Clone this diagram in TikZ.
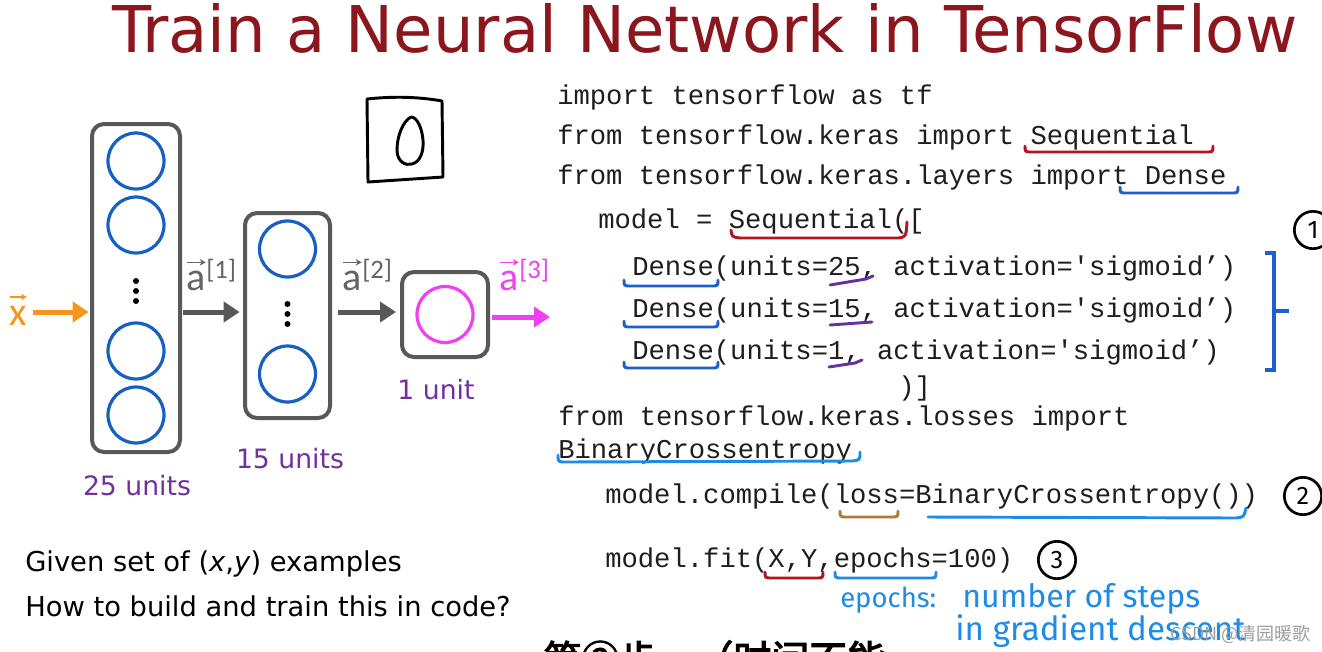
\documentclass[tikz,border=0pt]{standalone}
\usepackage{fontspec}
\setmainfont{DejaVu Sans}
\newfontfamily\codefont{Liberation Mono}
\newfontfamily\calfont{Carlito}
\newfontfamily\cjkfont{Noto Sans CJK SC}
\newfontfamily\cjkheavy[FakeBold=3]{Noto Sans CJK SC}
\newfontfamily\handfont{Fira Sans}
\usetikzlibrary{arrows.meta,calc}

\definecolor{titlered}{RGB}{140,22,30}
\definecolor{boxgray}{RGB}{88,88,88}
\definecolor{labgray}{RGB}{100,100,100}
\definecolor{unitblue}{RGB}{22,96,196}
\definecolor{magentaC}{RGB}{240,64,240}
\definecolor{orangeC}{RGB}{247,148,30}
\definecolor{purpleC}{RGB}{112,48,160}
\definecolor{codeblack}{RGB}{30,30,30}
\definecolor{penred}{RGB}{180,20,30}
\definecolor{penblue}{RGB}{30,95,205}
\definecolor{penlight}{RGB}{30,140,230}
\definecolor{penpurple}{RGB}{100,50,160}
\definecolor{penbrown}{RGB}{176,122,60}

\newcommand\hookline[4]{\draw[pen,#1] (#2,#4-6) .. controls (#2,#4) .. (#2+7,#4) -- (#3-7,#4) .. controls (#3,#4) .. (#3,#4-6);}

\begin{document}
\begin{tikzpicture}[x=0.75pt,y=-0.75pt,
  layerbox/.style={draw=boxgray, line width=3pt, rounded corners=9pt, inner sep=0pt},
  unitc/.style={circle, draw=unitblue, line width=2.4pt, minimum size=42pt, inner sep=0pt},
  dotn/.style={circle, fill=black, minimum size=4.5pt, inner sep=0pt},
  flowarrow/.style={line width=3.75pt, -{Triangle[length=12pt,width=15pt]}},
  veclab/.style={anchor=base west, inner sep=0pt, font=\calfont\fontsize{30}{30}\selectfont},
  suplab/.style={anchor=base west, inner sep=0pt, font=\calfont\fontsize{20}{20}\selectfont},
  vecbar/.style={line width=1.1pt, -{Stealth[length=4.5pt,width=5pt]}},
  unitlab/.style={text=purpleC, font=\fontsize{20}{24}\selectfont, inner sep=0pt},
  plain/.style={anchor=base west, inner sep=0pt, font=\fontsize{20.5}{24}\selectfont},
  code/.style={anchor=base west, inner sep=0pt, text=codeblack, font=\codefont\fontsize{20.4}{24}\selectfont},
  pen/.style={line width=2.2pt, line cap=round, line join=round},
  handblack/.style={pen, black},
  numc/.style={circle, draw=black, line width=2pt, inner sep=0pt, minimum size=28pt, font=\handfont\fontsize{19}{20}\selectfont}
]
\useasboundingbox[fill=white] (0,0) rectangle (1322,651);

% title
\node[anchor=base west, inner sep=0pt, text=titlered] (title) at (112,52)
  {\resizebox{888.75pt}{36.75pt}{\fontsize{40}{40}\selectfont Train a Neural Network in TensorFlow}};

% layers
\node[layerbox, minimum width=66pt, minimum height=246pt] (L1) at (136,288) {};
\node[layerbox, minimum width=63.75pt, minimum height=153.75pt] (L2) at (287.5,315.5) {};
\node[layerbox, minimum width=64.5pt, minimum height=63.75pt] (L3) at (445,314.5) {};

\node[unitc] (u11) at (136,161) {};
\node[unitc] (u12) at (136,225) {};
\node[unitc] (u13) at (136,351) {};
\node[unitc] (u14) at (136,415) {};
\node[dotn] (d11) at (136,281) {};
\node[dotn] (d12) at (136,291) {};
\node[dotn] (d13) at (136,301) {};

\node[unitc] (u21) at (287.5,249) {};
\node[unitc] (u22) at (287.5,374) {};
\node[dotn] (d21) at (287.5,304) {};
\node[dotn] (d22) at (287.5,314) {};
\node[dotn] (d23) at (287.5,324) {};

\node[unitc, draw=magentaC] (u31) at (445,314.5) {};

% arrows
\coordinate (ay) at (0,312);
\coordinate (xin) at (33,312);
\coordinate (aout) at (550,317);
\draw[flowarrow, orangeC, shorten >=1pt] (xin) -- (L1.west |- ay);
\draw[flowarrow, boxgray, shorten <=1pt, shorten >=2.5pt] (L1.east |- ay) -- (L2.west |- ay);
\draw[flowarrow, boxgray, shorten <=4.5pt, shorten >=3pt] (L2.east |- ay) -- (L3.west |- ay);
\draw[flowarrow, magentaC, shorten <=1.5pt] (L3.east |- aout) -- (aout);

% vector labels
\node[veclab, text=orangeC] (xl) at (9,325) {x};
\draw[vecbar, orangeC] ([xshift=0.5pt,yshift=6.5pt]xl.north west) -- ([yshift=6.5pt]xl.north east);

\node[veclab, text=labgray] (a1) at (186,290) {a};
\node[suplab, text=labgray] (s1) at (206,278) {[1]};
\draw[vecbar, labgray] ([xshift=0.5pt,yshift=6pt]a1.north west) -- ([yshift=6pt]a1.north east);

\node[veclab, text=labgray] (a2) at (342,290) {a};
\node[suplab, text=labgray] (s2) at (362,278) {[2]};
\draw[vecbar, labgray] ([xshift=0.5pt,yshift=6pt]a2.north west) -- ([yshift=6pt]a2.north east);

\node[veclab, text=magentaC] (a3) at (499,290) {a};
\node[suplab, text=magentaC] (s3) at (519,278) {[3]};
\draw[vecbar, magentaC] ([xshift=0.5pt,yshift=6pt]a3.north west) -- ([yshift=6pt]a3.north east);

% unit labels
\node[unitlab] (n25) at (137,486) {25 units};
\node[unitlab] (n15) at (290,459) {15 units};
\node[unitlab] (n1) at (436,390) {1 unit};

% hand drawn digit image
\draw[handblack] (367,99) .. controls (395,96) and (420,97) .. (442,101) -- (443,177) -- (368,182) -- cycle;
\draw[handblack] (411,117) .. controls (403,121) and (397,136) .. (397,150)
   .. controls (397,162) and (406,166) .. (412,164)
   .. controls (420,162) and (424,152) .. (423,140)
   .. controls (422,128) and (417,117) .. (411,117);

% bottom left text
\node[plain] (given) at (25,571) {Given set of (\textit{x},\textit{y}) examples};
\node[plain] (how) at (25,616) {How to build and train this in code?};

% code
\node[code] (c1) at (557,104) {import tensorflow as tf};
\node[code] (c2) at (557,144) {from tensorflow.keras import Sequential};
\node[code] (c3) at (557,184) {from tensorflow.keras.layers import Dense};
\node[code] (c4) at (598,228) {model = Sequential([};
\node[code] (c5) at (632,275) {Dense(units=25, activation='sigmoid’)};
\node[code] (c6) at (632,317) {Dense(units=15, activation='sigmoid’)};
\node[code] (c7) at (632,359) {Dense(units=1, activation='sigmoid’)};
\node[code] (c8) at (898,395) {)]};
\node[code] (c9) at (558,425) {from tensorflow.keras.losses import};
\node[code] (c10) at (558,458) {BinaryCrossentropy};
\node[code] (c11) at (605,503) {model.compile(loss=BinaryCrossentropy())};
\node[code] (c12) at (605,567) {model.fit(X,Y,epochs=100)};

% hand annotations: underlines
\hookline{penred}{1025}{1213}{152}
\hookline{penblue}{1120}{1238}{193}
\draw[pen, penred] (731,230) .. controls (732,237) .. (740,238) -- (898,238) .. controls (906,237) .. (907,222);
\hookline{penblue}{624}{718}{286}
\hookline{penblue}{624}{718}{327}
\hookline{penblue}{624}{718}{368}
\draw[pen, penpurple] (830,285) -- (866,279) -- (873,276);
\draw[pen, penpurple] (830,325) -- (872,322);
\draw[pen, penpurple] (829,367) -- (855,363) -- (862,360);
\draw[pen, penlight] (558,455) .. controls (558,462) .. (566,462) -- (852,461) .. controls (860,460) .. (860,452);
\hookline{penbrown}{840}{898}{517}
\draw[pen, penlight] (928,517) -- (1236,518) .. controls (1244,517) .. (1246,508);
\hookline{penred}{765}{823}{578}
\hookline{penlight}{835}{936}{578}

% bracket
\draw[line width=3.6pt, penblue, line join=miter] (1265,253) -- (1274,253) -- (1274,370) -- (1265,370);
\draw[line width=3.6pt, penblue] (1274,311) -- (1289,311);

% circled numbers
\node[numc] (k1) at (1313,230) {1};
\node[numc] (k2) at (1303,496) {2};
\node[numc] (k3) at (1057,560) {3};

% handwritten note
\node[anchor=base west, inner sep=0pt, text=penlight] (h1) at (840,607) {\resizebox{72pt}{!}{\handfont epochs:}};
\node[anchor=base west, inner sep=0pt, text=penlight] (h2) at (962,607) {\resizebox{178.5pt}{!}{\handfont number of steps}};
\node[anchor=base west, inner sep=0pt, text=penlight] (h3) at (955,640) {\resizebox{217.5pt}{!}{\handfont in gradient descent}};

% watermark
\node[anchor=base west, inner sep=0pt, text=gray!75] (wm) at (1170,640) {\cjkfont\fontsize{13.5}{14}\selectfont CSDN @清园暖歌};

% clipped subtitle
\node[anchor=base west, inner sep=0pt, text=black] (sub) at (543,673) {\cjkheavy\fontsize{28.5}{30}\selectfont 第②步，（时间不能};
\end{tikzpicture}
\end{document}
